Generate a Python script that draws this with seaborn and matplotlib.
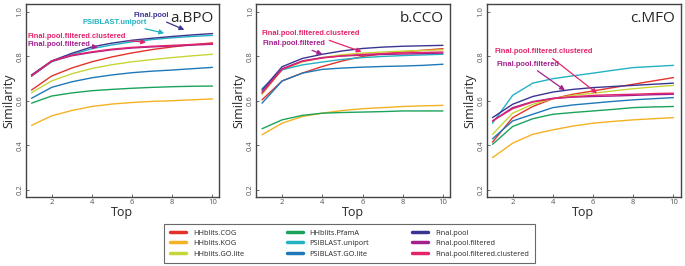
import matplotlib

matplotlib.use("Agg")

import matplotlib.pyplot as plt
import pandas as pd
import seaborn as sns

TOP = [1, 2, 3, 4, 5, 6, 7, 8, 9, 10]

METHODS = [
    "HHblits.COG", "HHblits.KOG", "HHblits.GO.lite",
    "HHblits.PfamA", "PSIBLAST.uniport", "PSIBLAST.GO.lite",
    "Final.pool", "Final.pool.filtered", "Final.pool.filtered.clustered",
]

COLORS = [
    "#e2322b", "#f4b223", "#c5d636",
    "#1ba35c", "#22b2c2", "#1f78b8",
    "#3b3592", "#a4208e", "#e3246c",
]

bpo = {
    "HHblits.COG": [0.649, 0.712, 0.748, 0.776, 0.798, 0.816, 0.831, 0.843, 0.853, 0.861],
    "HHblits.KOG": [0.490, 0.533, 0.557, 0.575, 0.586, 0.593, 0.598, 0.601, 0.605, 0.609],
    "HHblits.GO.lite": [0.637, 0.690, 0.722, 0.746, 0.763, 0.776, 0.786, 0.795, 0.803, 0.810],
    "HHblits.PfamA": [0.590, 0.622, 0.636, 0.646, 0.652, 0.657, 0.661, 0.664, 0.666, 0.667],
    "PSIBLAST.uniport": [0.712, 0.776, 0.808, 0.835, 0.852, 0.866, 0.876, 0.884, 0.890, 0.895],
    "PSIBLAST.GO.lite": [0.612, 0.661, 0.686, 0.704, 0.717, 0.727, 0.734, 0.739, 0.745, 0.751],
    "Final.pool": [0.717, 0.780, 0.814, 0.843, 0.860, 0.873, 0.882, 0.890, 0.897, 0.903],
    "Final.pool.filtered": [0.712, 0.778, 0.803, 0.818, 0.830, 0.838, 0.843, 0.847, 0.851, 0.855],
    "Final.pool.filtered.clustered": [0.714, 0.780, 0.806, 0.821, 0.833, 0.841, 0.846, 0.850, 0.854, 0.858],
}

cco = {
    "HHblits.COG": [0.605, 0.690, 0.725, 0.755, 0.780, 0.800, 0.812, 0.820, 0.828, 0.835],
    "HHblits.KOG": [0.448, 0.500, 0.530, 0.545, 0.557, 0.565, 0.570, 0.575, 0.578, 0.580],
    "HHblits.GO.lite": [0.630, 0.740, 0.775, 0.795, 0.808, 0.815, 0.820, 0.824, 0.827, 0.830],
    "HHblits.PfamA": [0.475, 0.515, 0.535, 0.545, 0.548, 0.550, 0.552, 0.555, 0.555, 0.555],
    "PSIBLAST.uniport": [0.655, 0.740, 0.762, 0.775, 0.787, 0.795, 0.800, 0.804, 0.807, 0.810],
    "PSIBLAST.GO.lite": [0.590, 0.690, 0.725, 0.742, 0.748, 0.752, 0.755, 0.757, 0.760, 0.765],
    "Final.pool": [0.649, 0.754, 0.791, 0.810, 0.825, 0.836, 0.842, 0.846, 0.848, 0.850],
    "Final.pool.filtered": [0.640, 0.745, 0.780, 0.795, 0.802, 0.806, 0.809, 0.811, 0.813, 0.815],
    "Final.pool.filtered.clustered": [0.635, 0.742, 0.778, 0.793, 0.803, 0.809, 0.813, 0.816, 0.818, 0.820],
}

mfo = {
    "HHblits.COG": [0.415, 0.525, 0.575, 0.610, 0.630, 0.645, 0.660, 0.675, 0.690, 0.705],
    "HHblits.KOG": [0.345, 0.410, 0.450, 0.470, 0.487, 0.500, 0.508, 0.515, 0.520, 0.525],
    "HHblits.GO.lite": [0.450, 0.545, 0.585, 0.610, 0.625, 0.635, 0.645, 0.655, 0.663, 0.670],
    "HHblits.PfamA": [0.405, 0.485, 0.520, 0.540, 0.548, 0.555, 0.562, 0.570, 0.573, 0.575],
    "PSIBLAST.uniport": [0.500, 0.625, 0.680, 0.700, 0.713, 0.725, 0.738, 0.750, 0.755, 0.760],
    "PSIBLAST.GO.lite": [0.430, 0.510, 0.540, 0.570, 0.582, 0.590, 0.598, 0.605, 0.610, 0.615],
    "Final.pool": [0.525, 0.585, 0.620, 0.640, 0.652, 0.660, 0.665, 0.670, 0.675, 0.680],
    "Final.pool.filtered": [0.510, 0.570, 0.597, 0.612, 0.617, 0.620, 0.622, 0.625, 0.628, 0.630],
    "Final.pool.filtered.clustered": [0.510, 0.565, 0.595, 0.610, 0.619, 0.625, 0.628, 0.630, 0.633, 0.635],
}

PANELS = [("a.BPO", bpo), ("b.CCO", cco), ("c.MFO", mfo)]

# (text, colour index, text xy, arrow tip xy) in data coords
NOTES = {
    "a.BPO": [
        ("Final.pool", 6, (6.05, 0.985), (8.6, 0.920)),
        ("PSIBLAST.uniport", 4, (3.55, 0.955), (7.6, 0.905)),
        ("Final.pool.filtered.clustered", 8, (0.8, 0.891), (6.7, 0.864)),
        ("Final.pool.filtered", 7, (0.8, 0.856), (4.3, 0.842)),
    ],
    "b.CCO": [
        ("Final.pool.filtered.clustered", 8, (0.95, 0.903), (5.95, 0.821)),
        ("Final.pool.filtered", 7, (1.03, 0.858), (4.0, 0.810)),
    ],
    "c.MFO": [
        ("Final.pool.filtered.clustered", 8, (1.12, 0.821), (6.2, 0.634)),
        ("Final.pool.filtered", 7, (1.2, 0.766), (4.6, 0.648)),
    ],
}


def to_long(data):
    rows = []
    for method in METHODS:
        for top, value in zip(TOP, data[method]):
            rows.append({"Top": top, "Similarity": value, "method": method})
    return pd.DataFrame(rows)


sns.set_style("white")
plt.rcParams["font.family"] = ["Open Sans", "DejaVu Sans"]

fig = plt.figure(figsize=(6.85, 2.66), dpi=100)
palette = dict(zip(METHODS, COLORS))
lefts = [25.5 / 685, 256 / 685, 486.5 / 685]

for left, (name, data) in zip(lefts, PANELS):
    ax = fig.add_axes([left, 0.2594, 194 / 685, 0.7256])
    sns.lineplot(
        data=to_long(data), x="Top", y="Similarity", hue="method",
        hue_order=METHODS, palette=palette, linewidth=1.0, ax=ax,
        legend=(name == "a.BPO"),
    )
    ax.set_xlim(0.7, 10.35)
    ax.set_ylim(0.168, 1.036)
    ax.set_xticks([2, 4, 6, 8, 10])
    ax.set_yticks([0.2, 0.4, 0.6, 0.8, 1.0])
    ax.set_yticklabels(["0.2", "0.4", "0.6", "0.8", "1.0"], rotation=90, va="center")
    ax.tick_params(axis="both", labelsize=5.5, colors="#555555", length=2,
                   width=0.6, pad=1.5, direction="in")
    ax.tick_params(axis="both", bottom=True, left=True)
    ax.set_xlabel("Top", fontsize=9, labelpad=0)
    ax.set_ylabel("Similarity", fontsize=9, labelpad=1)
    for spine in ax.spines.values():
        spine.set_color("#444444")
        spine.set_linewidth(1.0)
    ax.text(0.97, 0.965, name, transform=ax.transAxes, ha="right", va="top", fontsize=11)
    for text, ci, xy_text, xy_tip in NOTES[name]:
        ax.annotate(
            text, xy=xy_tip, xytext=xy_text, fontsize=5.4, fontweight="bold",
            color=COLORS[ci], va="center", ha="left",
            family=["Liberation Sans", "DejaVu Sans"],
            arrowprops=dict(arrowstyle="-|>", color=COLORS[ci], lw=0.9,
                            mutation_scale=7, shrinkA=0, shrinkB=0),
        )
    if name == "a.BPO":
        handles, labels = ax.get_legend_handles_labels()
        ax.get_legend().remove()

leg = fig.legend(
    handles, labels, ncol=3, loc="center", bbox_to_anchor=(0.51, 0.0846),
    fontsize=5.3, frameon=True, fancybox=False, edgecolor="#444444",
    handlelength=2.2, handletextpad=0.9, columnspacing=5.8, borderpad=0.8,
    labelspacing=0.45,
)
leg.get_frame().set_linewidth(0.8)
for line in leg.get_lines():
    line.set_linewidth(2.5)

fig.savefig("out.png", dpi=100)
